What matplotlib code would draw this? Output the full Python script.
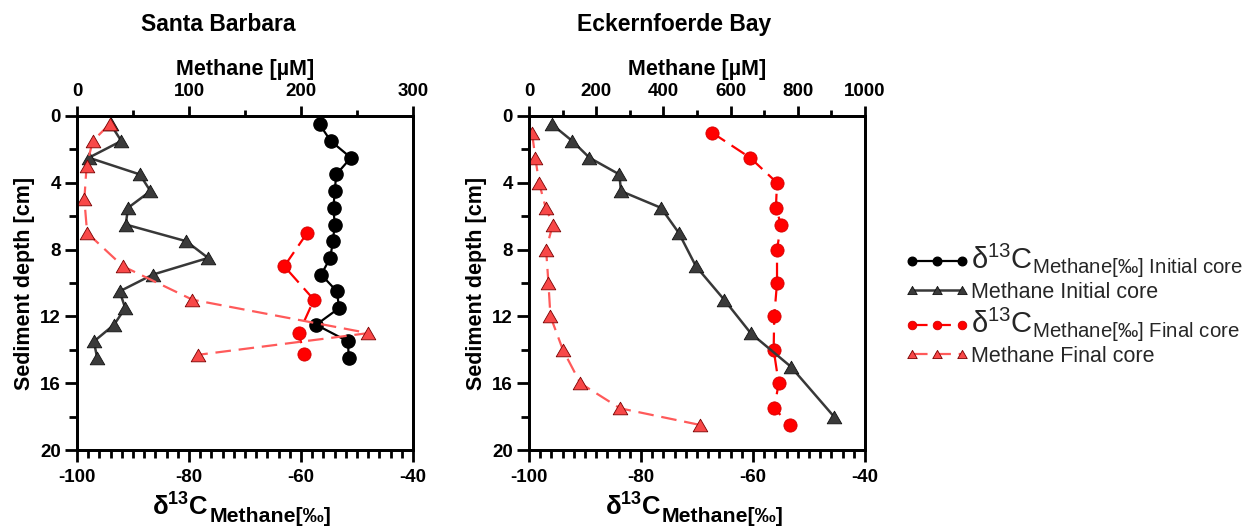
import matplotlib.pyplot as plt
from matplotlib.path import Path
from matplotlib.ticker import MultipleLocator

plt.rcParams['font.family'] = 'Liberation Sans'
plt.rcParams['font.weight'] = 'bold'
plt.rcParams['axes.labelweight'] = 'bold'
plt.rcParams['axes.unicode_minus'] = False
plt.rcParams['mathtext.fontset'] = 'custom'
plt.rcParams['mathtext.rm'] = 'Liberation Sans:weight=normal'
plt.rcParams['mathtext.it'] = 'Liberation Sans:italic:weight=normal'
plt.rcParams['mathtext.bf'] = 'Liberation Sans:bold'

# Santa Barbara
sb_d13c_init_depth = [0.5, 1.5, 2.5, 3.5, 4.5, 5.5, 6.5, 7.5, 8.5, 9.5, 10.5, 11.5, 12.5, 13.5, 14.5]
sb_d13c_init = [-56.7, -54.7, -51.1, -53.7, -54.0, -54.2, -54.0, -54.3, -54.8, -56.4, -53.6, -53.2, -57.3, -51.6, -51.5]
sb_ch4_init_depth = [0.5, 1.5, 2.5, 3.5, 4.5, 5.5, 6.5, 7.5, 8.5, 9.5, 10.5, 11.5, 12.5, 13.5, 14.5]
sb_ch4_init = [30, 39.5, 10.5, 56, 65.5, 45.5, 43.5, 97.5, 117, 67.5, 38, 43, 33, 15, 18]
sb_d13c_final_depth = [7, 9, 11, 13, 14.25]
sb_d13c_final = [-58.9, -63.0, -57.7, -60.4, -59.5]
sb_ch4_final_depth = [0.5, 1.5, 3, 5, 7, 9, 11, 13, 14.3]
sb_ch4_final = [29, 14, 8.5, 6.5, 9, 41, 103, 260, 108]

# Eckernfoerde Bay
ek_ch4_init_depth = [0.5, 1.5, 2.5, 3.5, 4.5, 5.5, 7, 9, 11, 13, 15, 18]
ek_ch4_init = [68, 129, 180, 269, 274, 393, 446, 497, 581, 660, 779, 908]
ek_final_depth = [1, 2.5, 4, 5.5, 6.5, 8, 10, 12, 14, 16, 17.5, 18.5]
ek_d13c_final = [-67.3, -60.5, -55.7, -55.9, -55.0, -55.7, -55.7, -56.2, -56.3, -55.4, -56.2, -53.4]
ek_ch4_final = [9, 19, 30, 50, 71, 51, 58, 64, 101, 153, 271, 510]

tri = Path([(-1, -0.866), (1, -0.866), (0, 0.866), (-1, -0.866)], closed=True)
dash = (0, (7, 3.5))

st_d13c_init = dict(color='black', marker='o', ms=9.5, lw=1.6)
st_ch4_init = dict(color='#383838', marker=tri, ms=10.5, mfc='#3a3a3a', mec='#111111', mew=0.6, lw=1.8)
st_d13c_final = dict(color='#ff0000', ls=dash, marker='o', ms=9.5, mec='#d40000', mew=0.6, lw=1.6)
st_ch4_final = dict(color='#ff5a5a', ls=dash, marker=tri, ms=10.5, mfc='#f84848', mec='#7a0000', mew=0.6, lw=1.6)

fig = plt.figure(figsize=(12.49, 5.27), dpi=100)


def make_panel(left, top_max, top_step, title, title_x, lab_x):
    ax = fig.add_axes([left, 0.146, 0.269, 0.634])
    ax2 = ax.twiny()
    ax.set_xlim(-100, -40)
    ax.set_ylim(20, 0)
    ax2.set_xlim(0, top_max)
    ax.set_xticks([-100, -80, -60, -40])
    ax.xaxis.set_minor_locator(MultipleLocator(2))
    ax.set_yticks(range(0, 21, 4))
    ax.yaxis.set_minor_locator(MultipleLocator(2))
    ax2.set_xticks(range(0, top_max + 1, top_step))
    ax2.xaxis.set_minor_locator(MultipleLocator(top_step / 2))
    ax.tick_params(which='both', direction='out', width=2, labelsize=13.5, pad=3)
    ax.tick_params(which='major', length=8.5)
    ax.tick_params(which='minor', length=5.5)
    ax.tick_params(axis='x', pad=5)
    ax2.tick_params(which='both', direction='out', width=2, labelsize=13.5, pad=4)
    ax2.tick_params(which='major', length=7.5)
    ax2.tick_params(which='minor', length=4.5)
    for a in (ax, ax2):
        for s in a.spines.values():
            s.set_linewidth(2)
    ax.set_ylabel('Sediment depth [cm]', fontsize=15.5, labelpad=4)
    ax2.set_xlabel('Methane [µM]', fontsize=15.5, labelpad=6)
    # bottom label: big delta-13C part plus a lowered, slightly smaller subscript
    t = ax.text(lab_x, -0.196, r'$\mathbf{\delta^{13}C}$', transform=ax.transAxes,
                fontsize=18.5, ha='left', va='baseline')
    ax.annotate('Methane[‰]', xy=(1, 0), xycoords=t, xytext=(0.5, -1.2),
                textcoords='offset points', fontsize=15.3, ha='left', va='baseline')
    fig.text(title_x, 0.954, title, fontsize=16.5, ha='center', va='center')
    return ax, ax2


ax, ax2 = make_panel(0.0617, 300, 100, 'Santa Barbara', 0.1745, 0.2232)
h1, = ax.plot(sb_d13c_init, sb_d13c_init_depth, **st_d13c_init)
h3, = ax.plot(sb_d13c_final, sb_d13c_final_depth, **st_d13c_final)
h2, = ax2.plot(sb_ch4_init, sb_ch4_init_depth, **st_ch4_init)
h4, = ax2.plot(sb_ch4_final, sb_ch4_final_depth, **st_ch4_final)

bx, bx2 = make_panel(0.4235, 1000, 200, 'Eckernfoerde Bay', 0.540, 0.2255)
bx.plot(ek_d13c_final, ek_final_depth, **st_d13c_final)
bx2.plot(ek_ch4_init, ek_ch4_init_depth, **st_ch4_init)
bx2.plot(ek_ch4_final, ek_final_depth, **st_ch4_final)

labels = [r'$\mathrm{\delta^{13}C_{Methane[‰]\ Initial\ core}}$',
          'Methane Initial core',
          r'$\mathrm{\delta^{13}C_{Methane[‰]\ Final\ core}}$',
          'Methane Final core']
leg = fig.legend([h1, h2, h3, h4], labels, loc='center left', bbox_to_anchor=(0.7254, 0.423),
                 frameon=False, numpoints=3, handlelength=2.9, handletextpad=0.1,
                 borderpad=0, borderaxespad=0, labelspacing=0.12, markerscale=0.65,
                 prop={'weight': 'normal', 'size': 15.5})
for i, t in enumerate(leg.get_texts()):
    t.set_color('#262626')
    if i in (0, 2):
        t.set_fontsize(21)

fig.savefig('out.png', dpi=100)
